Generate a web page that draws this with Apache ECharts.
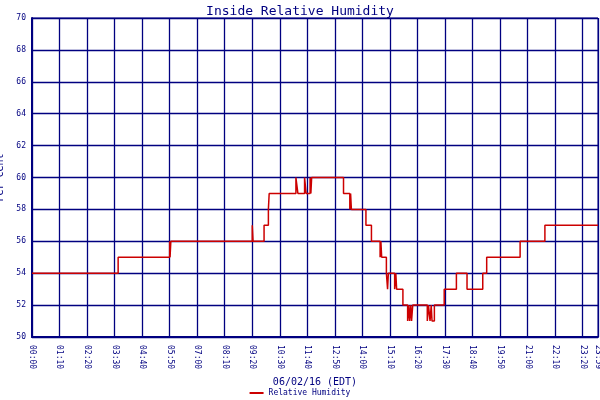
<!DOCTYPE html>
<html><head><meta charset="utf-8">
<script src="https://cdn.jsdelivr.net/npm/echarts@6/dist/echarts.min.js"></script>
<style>html,body{margin:0;padding:0;background:#fff}#c{width:600px;height:400px}</style>
</head><body><div id="c"></div>
<script>
// minutes after midnight where the reading changes, and the reading from then on
const times = [0,219,350,351,353,560,562,590,601,603,606,671,676,693,697,707,709,711,792,808,810,812,849,863,885,887,889,890,901,904,906,922,925,927,928,943,955,958,960,963,965,968,994,1005,1008,1012,1015,1017,1023,1048,1079,1106,1146,1150,1156,1241,1304,1439];
const values = [54,55,56,55,56,57,56,57,58,59,59,60,59,60,59,60,59,60,59,58,59,58,57,56,55,56,55,55,54,53,54,53,54,53,53,52,51,52,51,52,51,52,52,51,52,51,52,51,52,53,54,53,54,54,55,56,57,57];
const seriesName = 'Relative Humidity';
const data = times.map((t,i)=>[t,values[i]]);
function hm(m){m=Math.round(m);const h=Math.floor(m/60),mm=m%60;return String(h).padStart(2,'0')+':'+String(mm).padStart(2,'0');}
const navy='#000080', mono='DejaVu Sans Mono';
const chart=echarts.init(document.getElementById('c'));
chart.setOption({
  animation:false,
  title:{text:'Inside Relative Humidity',left:'center',top:0,textStyle:{color:navy,fontFamily:mono,fontSize:13,fontWeight:'normal'}},
  grid:{left:32,right:2,top:18,bottom:63,containLabel:false,outerBoundsMode:'none',show:true,borderColor:navy,borderWidth:1},
  legend:{bottom:-2,left:'center',data:[seriesName],itemWidth:14,itemHeight:2,icon:'rect',textStyle:{color:navy,fontFamily:mono,fontSize:8}},
  xAxis:{type:'value',min:0,max:1439,interval:70,name:'06/02/16 (EDT)',nameLocation:'middle',nameGap:38,
    nameTextStyle:{color:navy,fontFamily:mono,fontSize:10},
    axisLine:{lineStyle:{color:navy,width:2}},axisTick:{show:false},
    axisLabel:{rotate:-90,color:navy,fontFamily:mono,fontSize:8,formatter:v=>hm(v),showMaxLabel:true},
    splitLine:{show:true,lineStyle:{color:navy,width:1.3}}},
  yAxis:{type:'value',min:50,max:70,interval:2,name:'Per Cent',nameLocation:'middle',nameGap:22,
    nameTextStyle:{color:navy,fontFamily:mono,fontSize:10},
    axisLine:{show:true,lineStyle:{color:navy,width:2}},axisTick:{show:false},
    axisLabel:{color:navy,fontFamily:mono,fontSize:8,margin:6},
    splitLine:{show:true,lineStyle:{color:navy,width:1.3}}},
  series:[{name:seriesName,type:'line',step:'end',data:data,showSymbol:false,color:'#cc0000',lineStyle:{color:'#cc0000',width:1.5}}]
});
</script></body></html>
